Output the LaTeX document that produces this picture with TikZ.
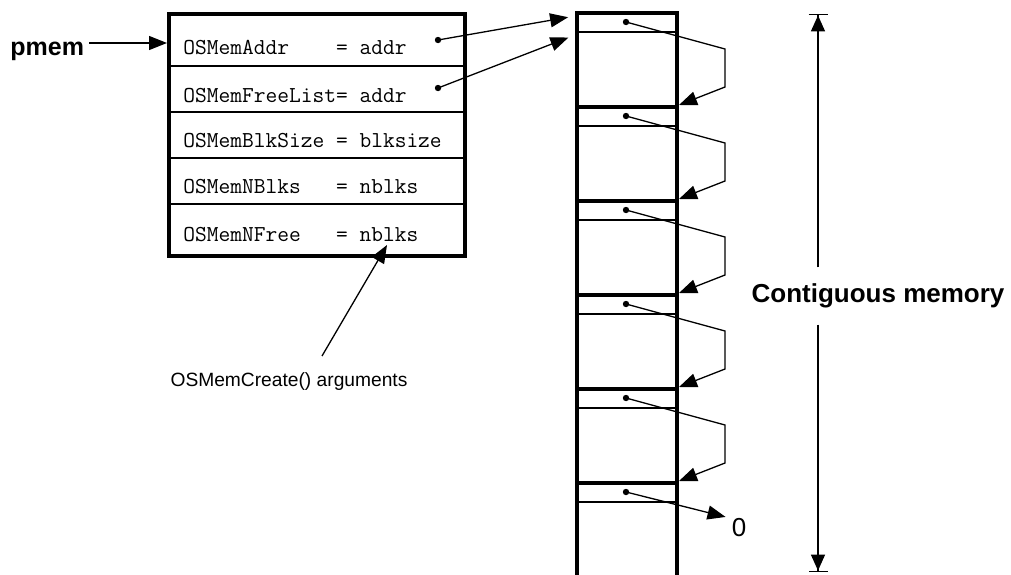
\documentclass[tikz,border=0pt]{standalone}
\usepackage{fontspec}
\setmainfont{Liberation Sans}
\usetikzlibrary{arrows.meta, positioning}

\tikzset{
  ptr/.style={line width=0.65pt, -{Triangle[length=9pt,width=7pt]}},
  ctlbox/.style={draw, line width=2pt, minimum width=148pt, minimum height=121pt},
  blkbox/.style={draw, line width=2pt, minimum width=50pt, minimum height=47pt},
  fld/.style={font=\fontsize{11.4}{13}\selectfont\ttfamily, anchor=base west, inner sep=0pt},
  sepline/.style={line width=0.65pt},
  lbl/.style={font=\fontsize{13}{15}\selectfont\bfseries}
}

\begin{document}
\begin{tikzpicture}[x=0.5pt, y=-0.5pt]
                \useasboundingbox (0,0) rectangle (1011,574);

                % Memory partition control block
                \node[ctlbox] (ctl) at (317,135) {};
                \foreach \y in {66,112,158,204} {
                    \draw[sepline] (ctl.west |- 0,\y) -- (ctl.east |- 0,\y);
                }
                \node[fld] (maddr) at (183,54) {OSMemAddr~~~~= addr};
                \node[fld] (mfree) at (183,102) {OSMemFreeList= addr};
                \node[fld] (msize) at (183,147) {OSMemBlkSize = blksize};
                \node[fld] (mnblk) at (183,193) {OSMemNBlks~~~= nblks};
                \node[fld] (mnfree) at (183,241) {OSMemNFree~~~= nblks};

                \coordinate (paddr) at (438,40);
                \coordinate (pfree) at (438,88);
                \fill (paddr) circle[radius=1.6pt];
                \fill (pfree) circle[radius=1.6pt];

                % pmem pointer
                \node[font=\fontsize{12.5}{15}\selectfont\bfseries, anchor=base west, inner sep=0pt] (pmem) at (10,55) {pmem};
                \coordinate (pm) at ([xshift=2.5pt, yshift=6pt]pmem.base east);
                \draw[ptr] (pm) -- (pm -| ctl.west);

                % Contiguous memory blocks
                \foreach \i in {1,...,6} {
                    \node[blkbox] (blk\i) at (627,{60+94*(\i-1)}) {};
                    \draw[sepline] ([yshift=-10.5pt]blk\i.north west) -- ([yshift=-10.5pt]blk\i.north east);
                    \coordinate (dot\i) at ([shift={(-1,11)}]blk\i.north);
                    \fill (dot\i) circle[radius=1.6pt];
                }

                % Free list links
                \foreach \i [count=\j from 2] in {1,...,5} {
                    \draw[ptr] (dot\i) -- ++(99,27) -- ++(0,38) -- (blk\j.north east);
                }
                \node[font=\fontsize{13}{15}\selectfont, inner sep=0pt] (nil) at (739,528) {0};
                \draw[ptr, shorten >=3pt] (dot6) -- (nil.north west);

                % Pointers into the partition
                \draw[ptr, shorten >=3.5pt] (paddr) -- ([yshift=-2.5pt]blk1.north west);
                \draw[ptr, shorten >=3.5pt] (pfree) -- ([yshift=-12pt]blk1.north west);

                % Create arguments
                \node[font=\fontsize{9.6}{11}\selectfont] (args) at (289,382) {OSMemCreate() arguments};
                \draw[ptr] ([shift={(33,-10)}]args.north) -- ([shift={(204,4)}]mnfree.base west);

                % Span of the partition
                \node[lbl, inner xsep=2pt, inner ysep=8pt] (cmem) at (878,296) {Contiguous memory};
                \coordinate (ctop) at (818,14);
                \coordinate (cbot) at (818,572);
                \draw[line width=0.7pt, -{Triangle[length=8pt,width=7pt]Bar[width=9.5pt]}] (cmem.north -| ctop) -- (ctop);
                \draw[line width=0.7pt, -{Triangle[length=8pt,width=7pt]Bar[width=9.5pt]}] (cmem.south -| cbot) -- (cbot);

            \end{tikzpicture}
\end{document}
